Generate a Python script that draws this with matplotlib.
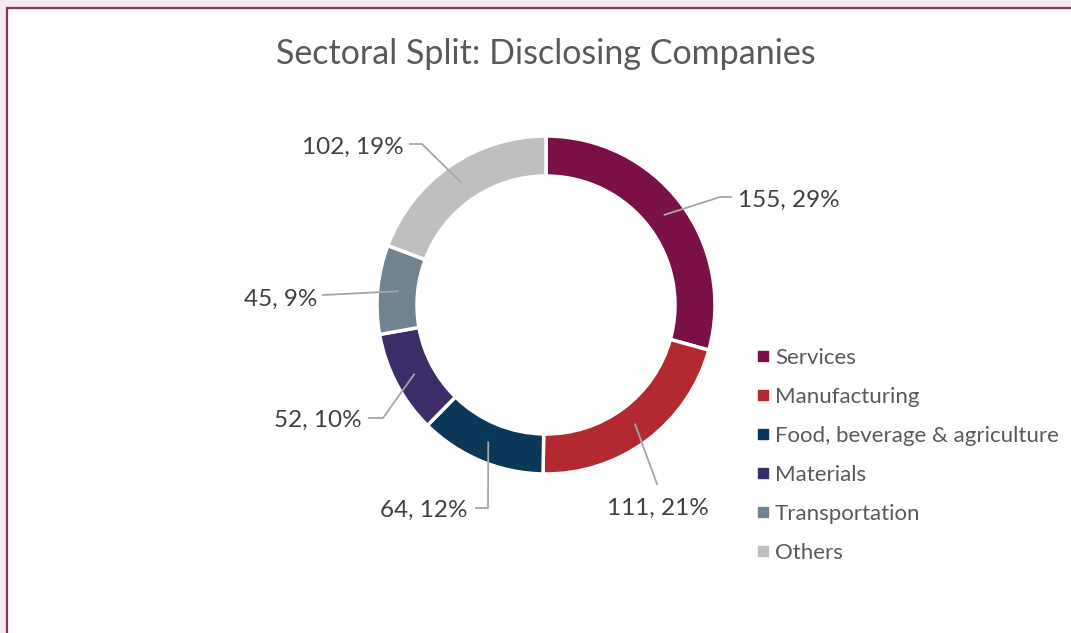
import numpy as np
import matplotlib.pyplot as plt
from matplotlib.patches import Rectangle

# data:
sectors = ['Services', 'Manufacturing', 'Food, beverage & agriculture',
           'Materials', 'Transportation', 'Others']
counts = [155, 111, 64, 52, 45, 102]
colors = ['#7B1046', '#B22A30', '#0B3858', '#3A2D68', '#708390', '#BFBFBF']

# label layout (pixel coords from top-left): elbow point, end point, text anchor, alignment
elbows = [(720, 197), (657, 484), (488, 508), (383, 418), (323, 295), (422, 144)]
ends = [(731, 197), (657, 484), (476, 508), (369, 418), (323, 295), (410, 144)]
texts = [(738, 200), (658, 508), (468, 510), (362, 420), (317, 299), (404, 147)]
aligns = [('left', 'center'), ('center', 'center'), ('right', 'center'),
          ('right', 'center'), ('right', 'center'), ('right', 'center')]

plt.rcParams['font.family'] = ['Lato', 'DejaVu Sans']

W, H = 1071, 633
fig = plt.figure(figsize=(W / 100, H / 100), dpi=100)
fig.patch.set_facecolor('#F4EAEF')
ax = fig.add_axes([0, 0, 1, 1])


def Y(y):
    # pixel row (from top) to data y
    return H - y


# chart frame
ax.add_patch(Rectangle((7, -10), W + 10, Y(8) + 10, facecolor='white',
                       edgecolor='#8C2F5E', lw=1.6, zorder=0))

cx, cy, r, width = 546, Y(305), 169, 40
wedges, _ = ax.pie(counts, colors=colors, startangle=90, counterclock=False,
                   center=(cx, cy), radius=r, frame=True,
                   wedgeprops=dict(width=width, edgecolor='white', linewidth=2.5))
ax.set_xlim(0, W)
ax.set_ylim(0, H)
ax.set_aspect('equal')
ax.axis('off')

total = sum(counts)
cum = np.cumsum([0] + counts)
rmid = r - width / 2
for i, c in enumerate(counts):
    frac = (cum[i] + c / 2) / total
    ang = 2 * np.pi * frac
    px = cx + rmid * np.sin(ang)
    py = cy + rmid * np.cos(ang)
    ex, ey = elbows[i]
    fx, fy = ends[i]
    ax.plot([px, ex, fx], [py, Y(ey), Y(fy)], color='#A6A6A6', lw=1.3, zorder=3)
    pct = round(100 * c / total)
    ha, va = aligns[i]
    ax.text(texts[i][0], Y(texts[i][1]), f'{c}, {pct}%', ha=ha, va=va,
            fontsize=17.5, color='#404040')

ax.text(546, Y(54), 'Sectoral Split: Disclosing Companies', ha='center', va='center',
        fontsize=24.5, color='#595959')

# legend
for i, name in enumerate(sectors):
    y = 356 + i * 39
    ax.scatter([763], [Y(y)], marker='s', s=55, color=colors[i], zorder=3)
    ax.text(775, Y(y + 2), name, ha='left', va='center', fontsize=16, color='#595959')

fig.savefig('out.png', dpi=100, facecolor=fig.get_facecolor())
